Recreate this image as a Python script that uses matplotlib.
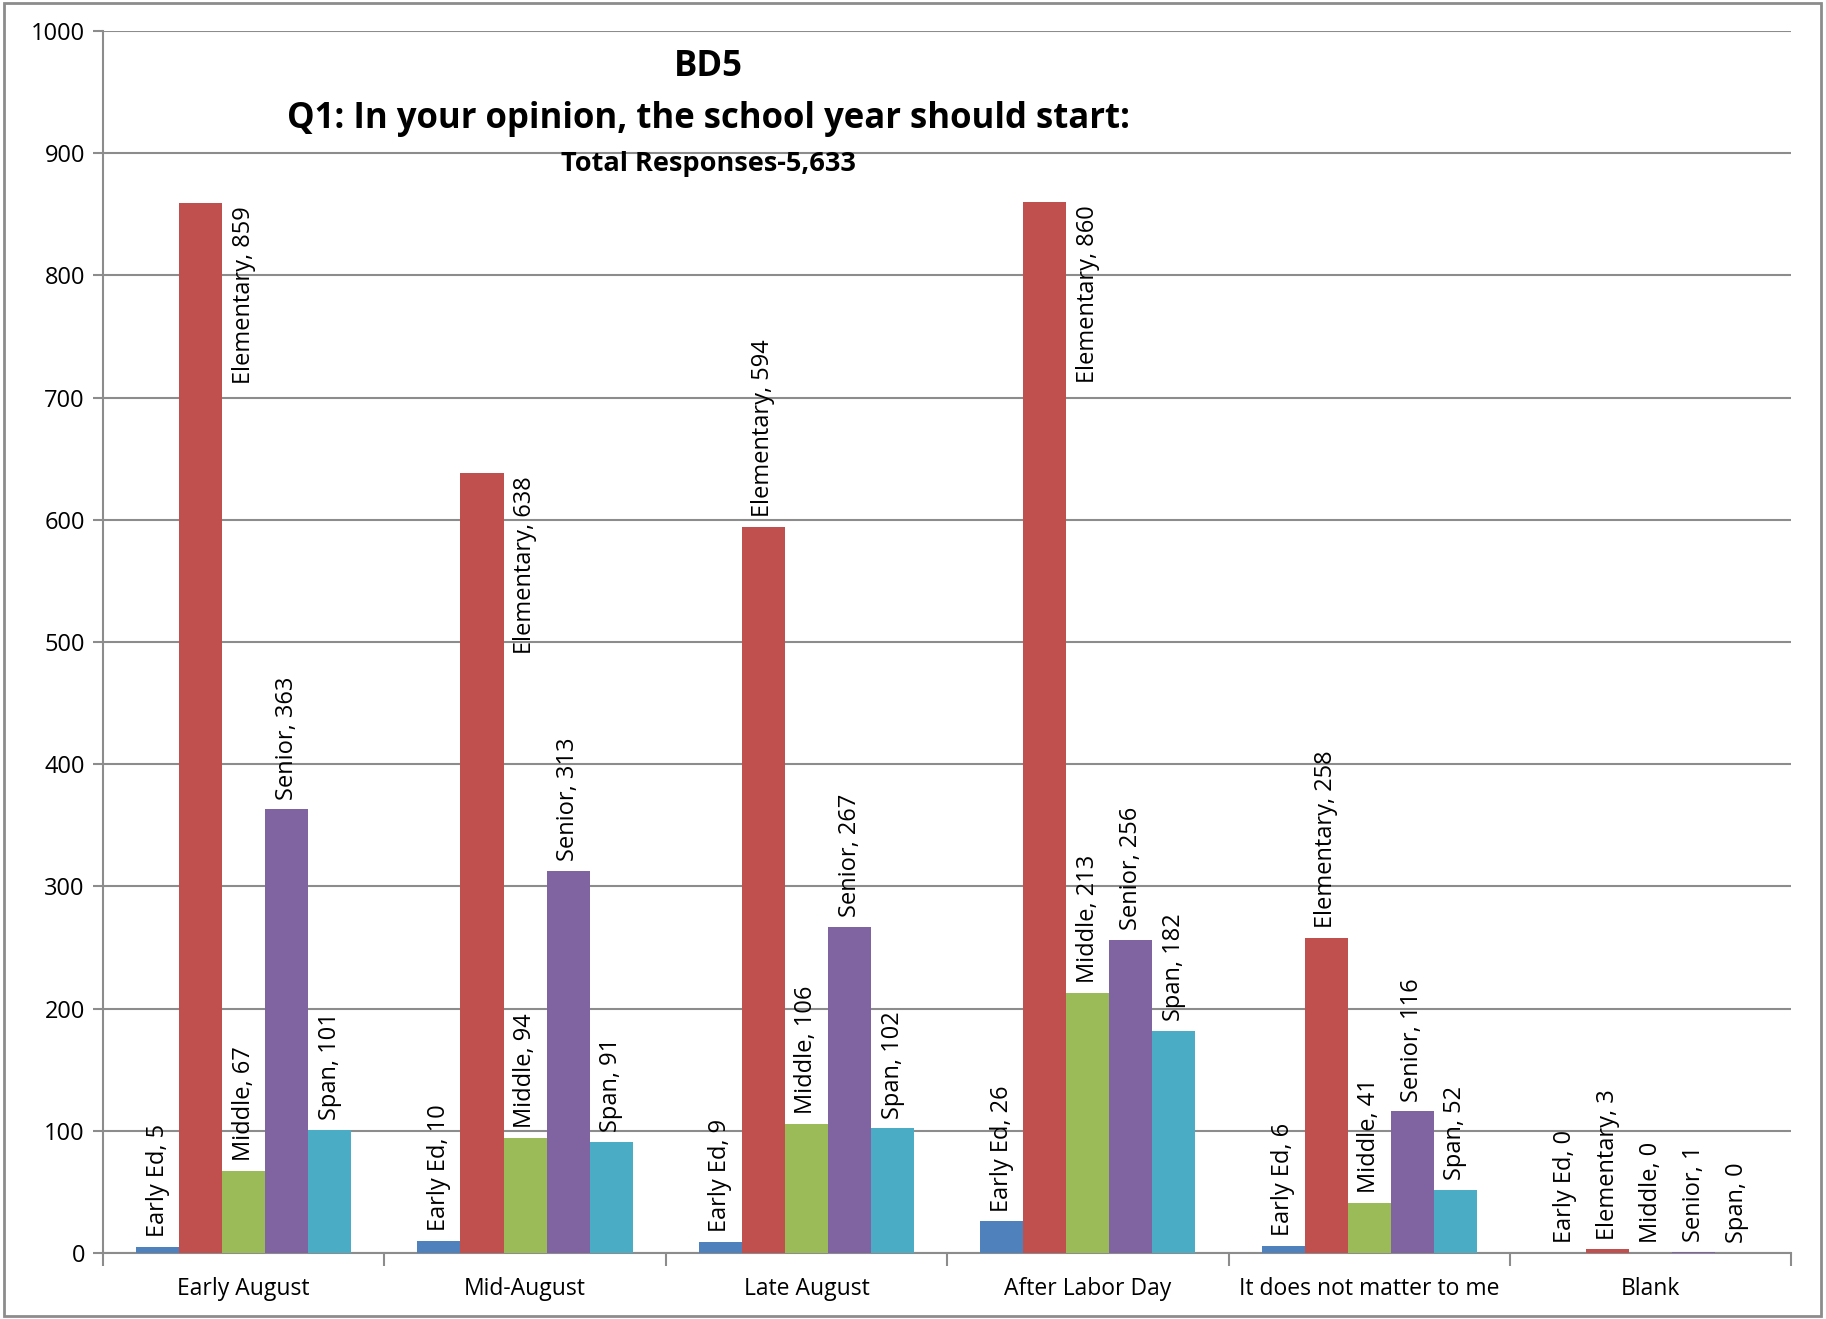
import matplotlib
matplotlib.use("Agg")
import matplotlib.pyplot as plt
import numpy as np
from matplotlib.patches import Rectangle

categories = ["Early August", "Mid-August", "Late August", "After Labor Day",
              "It does not matter to me", "Blank"]
series_names = ["Early Ed", "Elementary", "Middle", "Senior", "Span"]
early_ed = [5, 10, 9, 26, 6, 0]
elementary = [859, 638, 594, 860, 258, 3]
middle = [67, 94, 106, 213, 41, 0]
senior = [363, 313, 267, 256, 116, 1]
span = [101, 91, 102, 182, 52, 0]
y_ticks = [0, 100, 200, 300, 400, 500, 600, 700, 800, 900, 1000]

series = [early_ed, elementary, middle, senior, span]
colors = ["#4F81BD", "#C0504D", "#9BBB59", "#8064A2", "#4BACC6"]

plt.rcParams['font.family'] = ['Open Sans', 'DejaVu Sans']

fig = plt.figure(figsize=(18.26, 13.19), dpi=100)
ax = fig.add_axes([0.0564, 0.0500, 0.9246, 0.9265])

n = len(series)
bw = 0.153
x = np.arange(len(categories))
for i, (vals, col) in enumerate(zip(series, colors)):
    xs = x + (i - (n - 1) / 2) * bw
    ax.bar(xs, vals, width=bw, color=col, zorder=3, linewidth=0)
    for xi, v in zip(xs, vals):
        lab = f"{series_names[i]}, {v}"
        if v > 600:
            ax.annotate(lab, (xi + bw, v), xytext=(0, -2), textcoords="offset points",
                        rotation=90, ha="center", va="top", fontsize=17, zorder=4)
        else:
            ax.annotate(lab, (xi, v), xytext=(0, 7), textcoords="offset points",
                        rotation=90, ha="center", va="bottom", fontsize=17, zorder=4)

ax.set_xlim(-0.5, len(categories) - 0.5)
ax.set_ylim(0, 1000)
ax.set_yticks(y_ticks)
ax.set_yticklabels([str(t) for t in y_ticks], fontsize=17)
ax.yaxis.grid(True, color="#8C8C8C", linewidth=1.5, zorder=0)
ax.set_axisbelow(True)

ax.set_xticks(x)
ax.set_xticklabels(categories, fontsize=16.5)
ax.tick_params(axis="x", length=0, pad=17)
ax.set_xticks(np.arange(len(categories) + 1) - 0.5, minor=True)
ax.tick_params(axis="x", which="minor", length=9, color="#8C8C8C", width=1.5)
ax.tick_params(axis="y", length=7, color="#8C8C8C", width=1.5, pad=6)

for s in ["top", "right"]:
    ax.spines[s].set_visible(False)
for s in ["left", "bottom"]:
    ax.spines[s].set_color("#8C8C8C")
    ax.spines[s].set_linewidth(1.5)

fig.text(0.388, 0.949, "BD5", ha="center", va="center", fontsize=25, fontweight="bold")
fig.text(0.388, 0.910, "Q1: In your opinion, the school year should start:",
         ha="center", va="center", fontsize=25, fontweight="bold")
fig.text(0.388, 0.876, "Total Responses-5,633", ha="center", va="center",
         fontsize=19.5, fontweight="bold")

fig.patches.append(Rectangle((0.002, 0.002), 0.995, 0.996, transform=fig.transFigure,
                             fill=False, edgecolor="#8C8C8C", linewidth=2))

fig.savefig("out.png", dpi=100)
